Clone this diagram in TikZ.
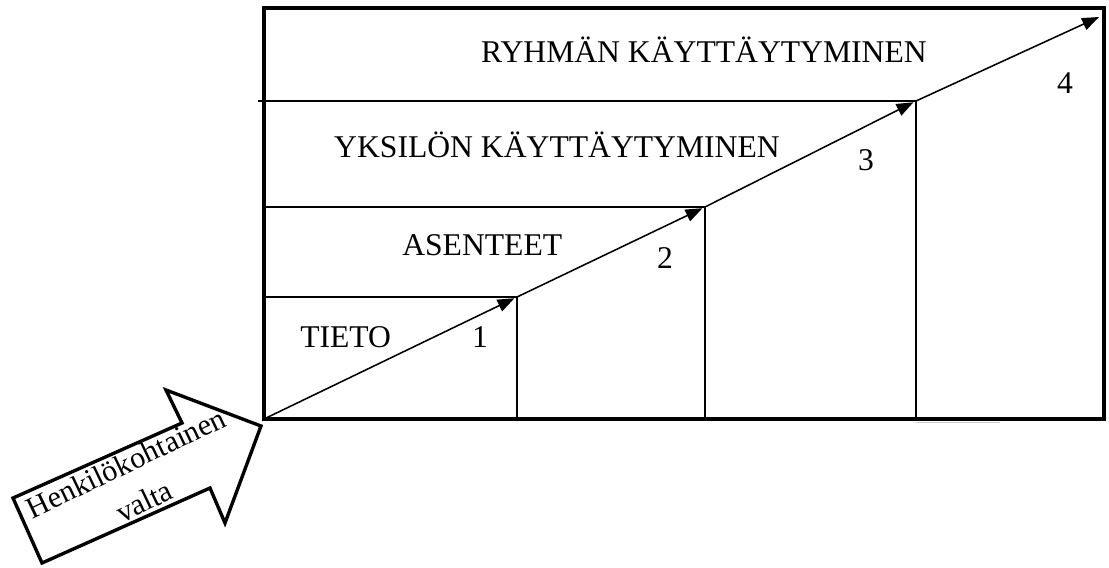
\documentclass[tikz,border=0pt]{standalone}
\usepackage{fontspec}
\setmainfont{Liberation Serif}
\usetikzlibrary{arrows.meta}
\begin{document}
\begin{tikzpicture}[x=0.025cm,y=-0.025cm,
    lbl/.style={font=\fontsize{22.5}{27}\selectfont,inner sep=0pt},
    stepline/.style={line width=1.4pt},
    climb/.style={-{Triangle[length=12pt,width=9pt]},line width=1.1pt,shorten >=2pt}]
    \useasboundingbox (0,0) rectangle (1109,567);
    \coordinate (o) at (264,419);
    \coordinate (c1) at (517,297);
    \coordinate (c2) at (705,207);
    \coordinate (c3) at (916,101);
    \coordinate (top) at (1099,17);
    \draw[line width=2.9pt] (o) rectangle (1104,8);
    \draw[gray!40,line width=1pt] (916,422.5) -- (1000,422.5);
    \draw[stepline] (c1 -| o) -- (c1) -- (c1 |- o);
    \draw[stepline] (c2 -| o) -- (c2) -- (c2 |- o);
    \draw[stepline] (258,101) -- (c3) -- (c3 |- o);
    \draw[climb] (o) -- (c1);
    \draw[climb] (c1) -- (c2);
    \draw[climb] (c2) -- (c3);
    \draw[climb,shorten >=0pt] (c3) -- (top);
    \node[lbl,anchor=base] (ryhma) at (704,62) {RYHMÄN KÄYTTÄYTYMINEN};
    \node[lbl,anchor=base] (yksilo) at (557,157) {YKSILÖN KÄYTTÄYTYMINEN};
    \node[lbl,anchor=base west] (asenteet) at (402,255) {ASENTEET};
    \node[lbl,anchor=base west] (tieto) at (300,347) {TIETO};
    \node[lbl,anchor=base] (n1) at (480,347) {1};
    \node[lbl,anchor=base] (n2) at (665,268) {2};
    \node[lbl,anchor=base] (n3) at (866,170) {3};
    \node[lbl,anchor=base] (n4) at (1065,93) {4};
    \draw[line width=2.4pt,line join=miter] (261,426) -- (166,390) -- (182,423) -- (13,498)
        -- (42,563) -- (210,488) -- (225,523) -- cycle;
    \node[lbl,font=\fontsize{21.5}{30}\selectfont,rotate=25.6,align=center] (valta)
        at (135,482) {Henkilökohtainen\\valta};
\end{tikzpicture}
\end{document}
